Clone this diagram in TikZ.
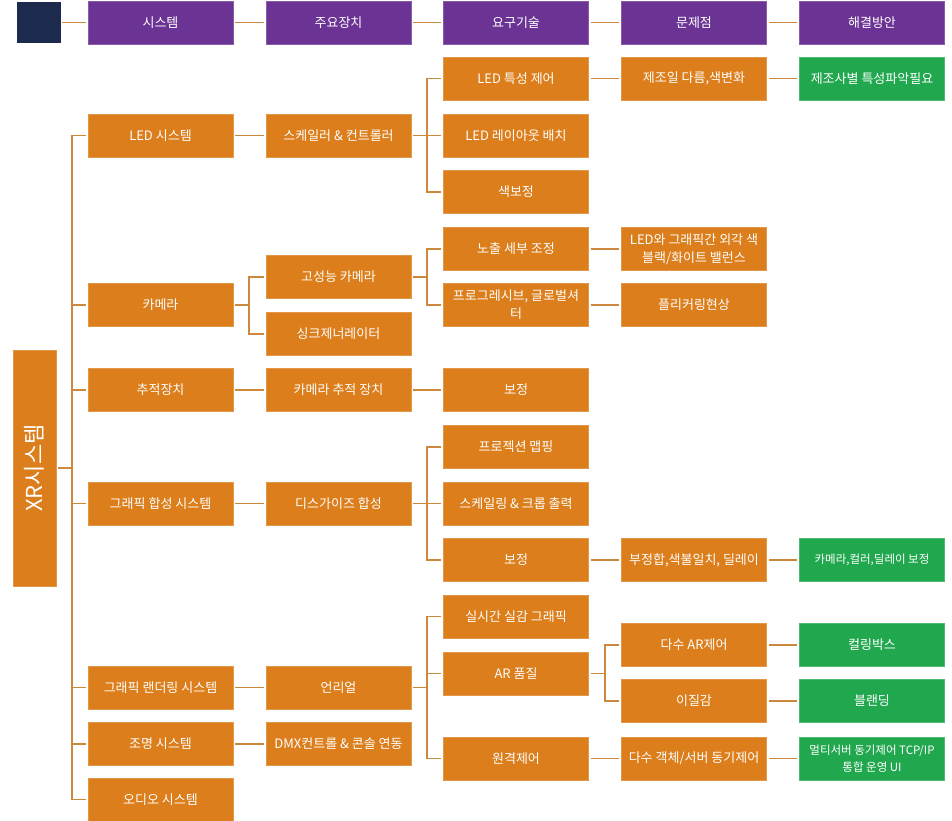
\documentclass[tikz,border=0pt]{standalone}
\usepackage{fontspec}
\usepackage{graphicx}
\setmainfont{Noto Sans CJK KR}
\definecolor{hdrcol}{RGB}{107,51,148}
\definecolor{boxcol}{RGB}{219,126,27}
\definecolor{solcol}{RGB}{33,168,79}
\definecolor{navy}{RGB}{28,42,78}
\definecolor{linkcol}{RGB}{204,136,60}
\begin{document}
\begin{tikzpicture}[x=1pt,y=-1pt,
    box/.style={fill=boxcol, draw=boxcol!80!white, text=white, minimum width=145pt, minimum height=43pt,
        inner sep=1pt, align=center, font=\fontsize{13}{18}\selectfont},
    hdr/.style={box, fill=hdrcol, draw=hdrcol!80!white},
    sol/.style={box, fill=solcol, draw=solcol!80!white},
    tight/.style={font=\fontsize{11.5}{17}\selectfont},
    link/.style={draw=linkcol, line width=1.6pt, shorten <=2pt, shorten >=2pt}]
    \useasboundingbox (0,0) rectangle (952,820);
    % Header
    \node[hdr, fill=navy, draw=navy, minimum width=43pt, minimum height=40pt] (corner) at (38.5,22.5) {};
    \node[hdr] (hsys) at (160.5,22.5) {시스템};
    \node[hdr] (hdev) at (338.5,22.5) {주요장치};
    \node[hdr] (htech) at (516,22.5) {요구기술};
    \node[hdr] (hprob) at (694,22.5) {문제점};
    \node[hdr] (hsol) at (872,22.5) {해결방안};
    \draw[link] (corner) -- (hsys);
    \draw[link] (hsys) -- (hdev);
    \draw[link] (hdev) -- (htech);
    \draw[link] (htech) -- (hprob);
    \draw[link] (hprob) -- (hsol);
    % Root
    \node[box, minimum width=43pt, minimum height=236pt, font=\fontsize{22}{24}\selectfont] (xr) at (34.5,468) {\rotatebox{90}{XR시스템}};
    % Systems
    \node[box] (led) at (160.5,135.5) {LED 시스템};
    \node[box] (cam) at (160.5,305) {카메라};
    \node[box] (track) at (160.5,390) {추적장치};
    \node[box] (comp) at (160.5,503.5) {그래픽 합성 시스템};
    \node[box] (rend) at (160.5,687.5) {그래픽 랜더링 시스템};
    \node[box] (light) at (160.5,744) {조명 시스템};
    \node[box] (audio) at (160.5,799.5) {오디오 시스템};
    % Devices
    \node[box] (scaler) at (338.5,135.5) {스케일러 \& 컨트롤러};
    \node[box] (hicam) at (338.5,277) {고성능 카메라};
    \node[box] (sync) at (338.5,334) {싱크제너레이터};
    \node[box] (camtrack) at (338.5,390) {카메라 추적 장치};
    \node[box] (disg) at (338.5,503.5) {디스가이즈 합성};
    \node[box] (unreal) at (338.5,687.5) {언리얼};
    \node[box] (dmx) at (338.5,744) {DMX컨트롤 \& 콘솔 연동};
    % Technology
    \node[box] (ledctl) at (516,78.5) {LED 특성 제어};
    \node[box] (layout) at (516,135.5) {LED 레이아웃 배치};
    \node[box] (color) at (516,192) {색보정};
    \node[box] (expo) at (516,249) {노출 세부 조정};
    \node[box] (shutter) at (516,305) {프로그레시브, 글로벌셔\\터};
    \node[box] (calib) at (516,390) {보정};
    \node[box] (proj) at (516,447) {프로젝션 맵핑};
    \node[box] (crop) at (516,503.5) {스케일링 \& 크롭 출력};
    \node[box] (calib2) at (516,560) {보정};
    \node[box] (realtime) at (516,616.5) {실시간 실감 그래픽};
    \node[box] (arq) at (516,673.5) {AR 품질};
    \node[box] (remote) at (516,758.5) {원격제어};
    % Problems
    \node[box] (mfr) at (694,78.5) {제조일 다름,색변화};
    \node[box] (edge) at (694,249) {LED와 그래픽간 외각 색\\블랙/화이트 밸런스};
    \node[box] (flicker) at (694,305) {플리커링현상};
    \node[box] (mismatch) at (694,560) {부정합,색불일치, 딜레이};
    \node[box] (multiar) at (694,645) {다수 AR제어};
    \node[box] (hetero) at (694,701) {이질감};
    \node[box] (multisync) at (694,758.5) {다수 객체/서버 동기제어};
    % Solutions
    \node[sol] (spec) at (872,78.5) {제조사별 특성파악필요};
    \node[sol, tight] (fix) at (872,560) {카메라,컬러,딜레이 보정};
    \node[sol] (culling) at (872,645) {컬링박스};
    \node[sol] (blend) at (872,701) {블랜딩};
    \node[sol, tight] (tcp) at (872,758.5) {멀티서버 동기제어 TCP/IP\\통합 운영 UI};
    % Connectors
    \foreach \c in {led,cam,track,comp,rend,light,audio}
        \draw[link] (xr.east) -- ++(16pt,0) |- (\c.west);
    \draw[link] (led) -- (scaler);
    \foreach \c in {hicam,sync}
        \draw[link] (cam.east) -- ++(16pt,0) |- (\c.west);
    \draw[link] (track) -- (camtrack);
    \draw[link] (comp) -- (disg);
    \draw[link] (rend) -- (unreal);
    \draw[link] (light) -- (dmx);
    \foreach \c in {ledctl,layout,color}
        \draw[link] (scaler.east) -- ++(16pt,0) |- (\c.west);
    \foreach \c in {expo,shutter}
        \draw[link] (hicam.east) -- ++(16pt,0) |- (\c.west);
    \draw[link] (camtrack) -- (calib);
    \foreach \c in {proj,crop,calib2}
        \draw[link] (disg.east) -- ++(16pt,0) |- (\c.west);
    \foreach \c in {realtime,arq,remote}
        \draw[link] (unreal.east) -- ++(16pt,0) |- (\c.west);
    \draw[link] (ledctl) -- (mfr);
    \draw[link] (expo) -- (edge);
    \draw[link] (shutter) -- (flicker);
    \draw[link] (calib2) -- (mismatch);
    \foreach \c in {multiar,hetero}
        \draw[link] (arq.east) -- ++(16pt,0) |- (\c.west);
    \draw[link] (remote) -- (multisync);
    \draw[link] (mfr) -- (spec);
    \draw[link] (mismatch) -- (fix);
    \draw[link] (multiar) -- (culling);
    \draw[link] (hetero) -- (blend);
    \draw[link] (multisync) -- (tcp);
\end{tikzpicture}
\end{document}
